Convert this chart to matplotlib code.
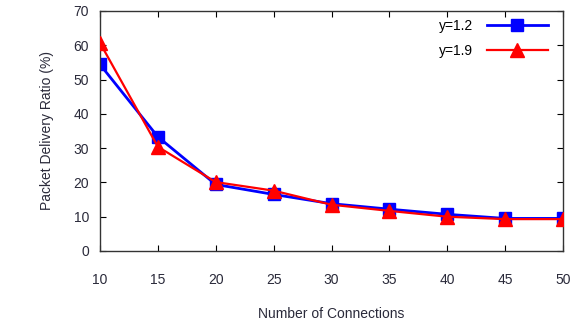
import matplotlib
matplotlib.use("Agg")
import matplotlib.pyplot as plt

connections = [10, 15, 20, 25, 30, 35, 40, 45, 50]
pdr_y12 = [54.4, 33.3, 19.4, 16.5, 13.8, 12.2, 10.7, 9.5, 9.5]
pdr_y19 = [60.7, 30.4, 20.1, 17.6, 13.5, 11.7, 10.0, 9.3, 9.3]

plt.rcParams['font.family'] = ['Liberation Sans', 'DejaVu Sans']
txt = '#2a2a3a'

fig = plt.figure(figsize=(5.71, 3.21), dpi=100)
ax = fig.add_axes([100 / 571, 1 - 251 / 321, 463 / 571, 240 / 321])

ax.plot(connections, pdr_y12, color='#0000ff', lw=2, marker='s', ms=9,
        label='y=1.2', zorder=2)
ax.plot(connections, pdr_y19, color='#ff0000', lw=1.6, marker='^', ms=10,
        label='y=1.9', zorder=3)

ax.set_xlim(10, 50)
ax.set_ylim(0, 70)
ax.set_xticks(connections)
ax.set_yticks(range(0, 71, 10))
ax.tick_params(direction='in', top=True, right=True, length=4,
               labelsize=10, labelcolor=txt)
ax.tick_params(axis='x', pad=16)
ax.tick_params(axis='y', pad=8)
for s in ax.spines.values():
    s.set_color('#333333')
    s.set_linewidth(1)

ax.set_xlabel('Number of Connections', fontsize=10, color=txt, labelpad=14)
ax.set_ylabel('Packet Delivery Ratio (%)', fontsize=10, color=txt, labelpad=14)

ax.legend(loc='upper right', frameon=False, markerfirst=False, fontsize=10,
          handlelength=4.4, labelspacing=0.75, borderaxespad=0.2,
          bbox_to_anchor=(0.985, 1.0), handletextpad=1.0)

fig.savefig('out.png', dpi=100)
